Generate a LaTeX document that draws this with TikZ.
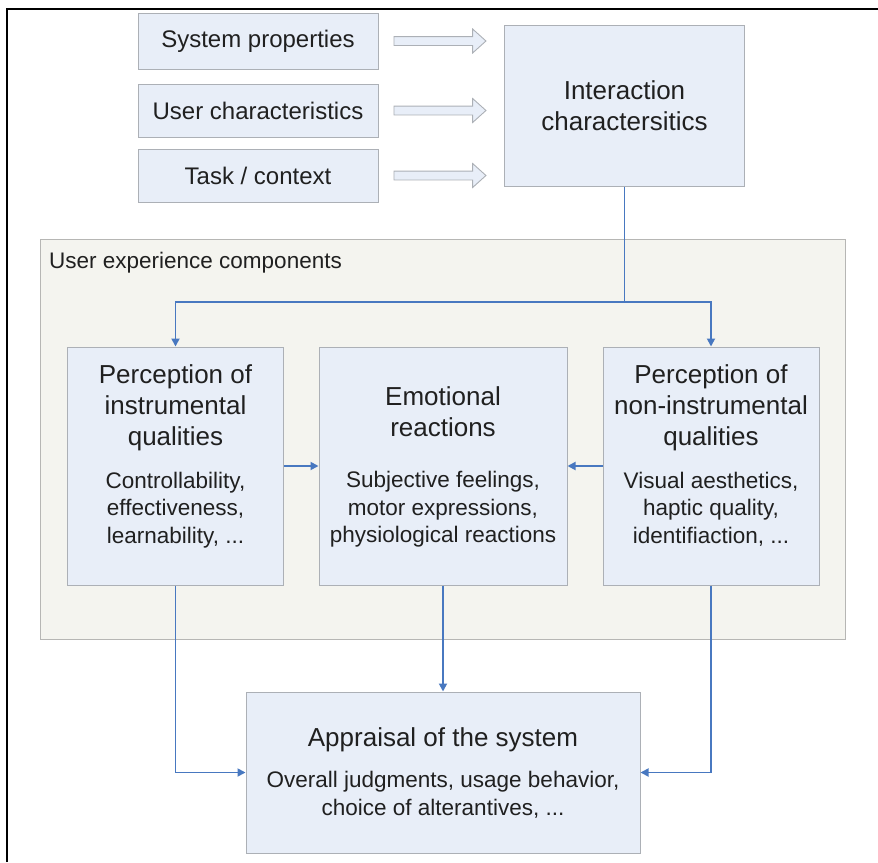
\documentclass[tikz,border=0pt]{standalone}
\usepackage{fontspec}
\setmainfont{Liberation Sans}
\usetikzlibrary{arrows.meta}
\usetikzlibrary{shapes.arrows}
\usetikzlibrary{positioning}
\definecolor{boxfill}{RGB}{232,238,248}
\definecolor{boxline}{RGB}{172,176,182}
\definecolor{uxfill}{RGB}{244,244,239}
\definecolor{uxline}{RGB}{182,182,180}
\definecolor{flowblue}{RGB}{72,120,192}
\definecolor{txt}{RGB}{32,32,32}
\newcommand{\smallfont}{\fontsize{24}{28}\selectfont}
\newcommand{\titlefont}{\fontsize{26}{31}\selectfont}
\newcommand{\bodyfont}{\fontsize{22.5}{27.5}\selectfont}
\newcommand{\boxtext}[6]{\parbox[c][#2][t]{#1}{\centering\vspace*{#3}%
    {\titlefont #4\par}\vspace{#5}{\bodyfont #6\par}}}
\tikzset{box/.style = {draw=boxline, fill=boxfill, line width=1pt, inner sep=0pt, text=txt},
         flow/.style = {draw=flowblue, line width=1.8pt},
         flowarrow/.style = {flow, -{Triangle[length=8pt, width=8pt]}},
         blockarrow/.style = {single arrow, draw=boxline, fill=boxfill, line width=0.9pt,
                              inner xsep=0pt, inner ysep=4pt, minimum height=92pt,
                              single arrow head extend=7.5pt, single arrow tip angle=84}}

\begin{document}
\begin{tikzpicture}[x=1pt, y=-1pt]
    \useasboundingbox (0,0) rectangle (878,862);
    \draw [line width=2pt] (6.5,862) -- (6.5,8.5) -- (878,8.5);

    % inputs
    \node [box, minimum width=240pt, minimum height=56pt, font=\smallfont] (sys) at (258,41) {System properties};
    \node [box, minimum width=240pt, minimum height=53pt, font=\smallfont] (user) at (258,110.5) {User characteristics};
    \node [box, minimum width=240pt, minimum height=53pt, font=\smallfont] (task) at (258,175.5) {Task / context};
    \node [box, minimum width=240pt, minimum height=161pt, align=center, font=\titlefont] (inter) at (624.5,105.5) {Interaction\\charactersitics};

    \node [blockarrow, right=15pt of sys] (sysarrow) {};
    \node [blockarrow, right=15pt of user] (userarrow) {};
    \node [blockarrow, right=15pt of task] (taskarrow) {};

    % components
    \node [draw=uxline, fill=uxfill, line width=1pt, minimum width=805pt, minimum height=400pt] (ux) at (442.5,439) {};
    \node [anchor=west, inner sep=0pt, font=\bodyfont, text=txt] (uxlabel) at (49,263) {User experience components};

    \node [box] (percI) at (175.5,466)
        {\boxtext{216pt}{238pt}{18pt}{Perception of\\instrumental\\qualities}{15pt}{Controllability,\\effectiveness,\\learnability, ...}};
    \node [box] (emo) at (443,466)
        {\boxtext{248pt}{238pt}{40pt}{Emotional\\reactions}{23.5pt}{Subjective feelings,\\motor expressions,\\physiological reactions}};
    \node [box] (percN) at (711,466)
        {\boxtext{216pt}{238pt}{18pt}{Perception of\\non-instrumental\\qualities}{15pt}{Visual aesthetics,\\haptic quality,\\identifiaction, ...}};

    \node [box] (appr) at (443,772.5)
        {\boxtext{394pt}{161pt}{36pt}{Appraisal of the system}{13.5pt}{Overall judgments, usage behavior,\\choice of alterantives, ...}};

    % connectors
    \coordinate (split) at (inter.south |- 0,302);
    \draw [flow] (inter.south) -- (split);
    \draw [flowarrow] (split) -| (percI.north);
    \draw [flowarrow] (split) -| (percN.north);
    \draw [flowarrow] (percI.east) -- (emo.west);
    \draw [flowarrow] (percN.west) -- (emo.east);
    \draw [flowarrow] (percI.south) |- (appr.west);
    \draw [flowarrow] (emo.south) -- (appr.north);
    \draw [flowarrow] (percN.south) |- (appr.east);
\end{tikzpicture}
\end{document}
